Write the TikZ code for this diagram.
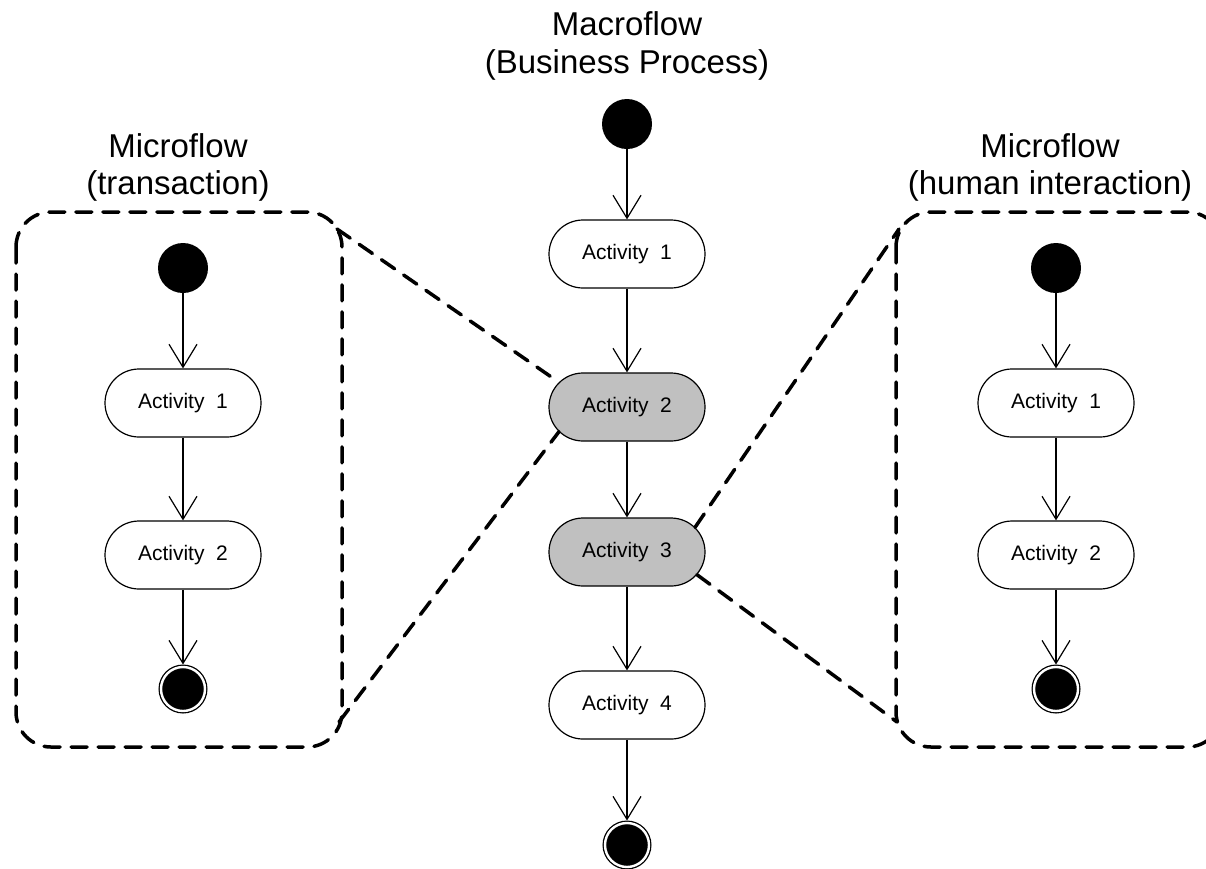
\documentclass[tikz,border=0pt]{standalone}
\usepackage{fontspec}
\setmainfont{Liberation Sans}
\usetikzlibrary{arrows.meta,shapes.misc}
\definecolor{actgray}{HTML}{C0C0C0}

\begin{document}
\begin{tikzpicture}[x=1pt,y=-1pt,
  flow/.style={draw=black,line width=1.2pt,-{Straight Barb[length=23pt,width=28pt]}},
  act/.style={rounded rectangle,draw=black,line width=1.2pt,fill=white,
    minimum width=156pt,minimum height=68pt,inner sep=0pt,
    font=\fontsize{21}{25}\selectfont},
  hot/.style={act,fill=actgray},
  startdot/.style={circle,fill=black,minimum size=50pt,inner sep=0pt,outer sep=0pt},
  enddot/.style={circle,fill=black,draw=black,line width=1.3pt,double=white,
    double distance=2.4pt,minimum size=44pt,inner sep=0pt,outer sep=2.5pt},
  panel/.style={draw=black,line width=3.5pt,line cap=round,
    dash pattern=on 16pt off 11pt},
  title/.style={font=\fontsize{33}{38}\selectfont,anchor=base,inner sep=0pt}]

\useasboundingbox (0,0) rectangle (1206,868);
\clip (0,0) rectangle (1206,868);

% headings
\node[title] (mt1) at (627,35) {Macroflow};
\node[title] (mt2) at (627,73) {(Business Process)};
\node[title] (lt1) at (178,157) {Microflow};
\node[title] (lt2) at (178,194) {(transaction)};
\node[title] (rt1) at (1050,157) {Microflow};
\node[title] (rt2) at (1050,194) {(human interaction)};

% grouping frames of the two microflows
\draw[panel,rounded corners=35pt] (16,212) rectangle (342,747);
\draw[panel,rounded corners=35pt] (896,212) rectangle (1222,747);

% macroflow
\node[startdot] (s0) at (627,124) {};
\node[act] (a1) at (627,254) {Activity~~1};
\node[hot] (a2) at (627,407) {Activity~~2};
\node[hot] (a3) at (627,552) {Activity~~3};
\node[act] (a4) at (627,705) {Activity~~4};
\node[enddot] (e0) at (627,845) {};
\draw[flow] (s0.south) -- (a1.north);
\draw[flow] (a1.south) -- (a2.north);
\draw[flow] (a2.south) -- (a3.north);
\draw[flow] (a3.south) -- (a4.north);
\draw[flow] (a4.south) -- (e0.north);

% microflow: transaction
\node[startdot] (ls) at (183,268) {};
\node[act] (la1) at (183,403) {Activity~~1};
\node[act] (la2) at (183,555) {Activity~~2};
\node[enddot] (le) at (183,689) {};
\draw[flow] (ls.south) -- (la1.north);
\draw[flow] (la1.south) -- (la2.north);
\draw[flow] (la2.south) -- (le.north);

% microflow: human interaction
\node[startdot] (rs) at (1056,268) {};
\node[act] (ra1) at (1056,403) {Activity~~1};
\node[act] (ra2) at (1056,555) {Activity~~2};
\node[enddot] (re) at (1056,689) {};
\draw[flow] (rs.south) -- (ra1.north);
\draw[flow] (ra1.south) -- (ra2.north);
\draw[flow] (ra2.south) -- (re.north);

% refinement lines from the frames to the activities they detail
\coordinate (ltr) at (337,229);
\coordinate (lbr) at (339,722);
\coordinate (rtl) at (899,229);
\coordinate (rbl) at (897,722);
\draw[panel] (ltr) -- (a2.160);
\draw[panel] (lbr) -- (a2.200);
\draw[panel] (a3.20) -- (rtl);
\draw[panel] (a3.-18) -- (rbl);
\end{tikzpicture}
\end{document}
